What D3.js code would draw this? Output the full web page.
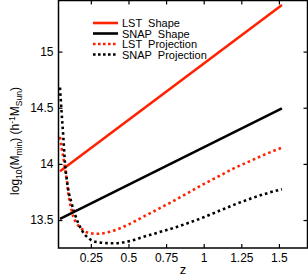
<!DOCTYPE html>
<html>
<head>
<meta charset="utf-8">
<script src="https://cdn.jsdelivr.net/npm/d3@7"></script>
<style>
  body { margin: 0; background: #fff; }
  text { font-family: "Liberation Sans", Arial, sans-serif; fill: #000; }
</style>
</head>
<body>
<svg id="chart"></svg>
<script>
var width = 308;
var height = 280;
var plot = {left: 58.5, right: 307.5, top: 0.5, bottom: 248};

// data
var zShape = [0.045, 1.52];
var lstShape = [13.935, 15.415];
var snapShape = [13.51, 14.495];

var zProj = [0.045, 0.056, 0.067, 0.078, 0.09, 0.10, 0.12, 0.134, 0.15, 0.167, 0.19, 0.21, 0.233, 0.26, 0.29,
             0.32, 0.36, 0.40, 0.45, 0.50, 0.60, 0.70, 0.80, 0.90, 1.0, 1.1, 1.2, 1.3, 1.4, 1.52];
var lstProj = [14.24, 14.14, 14.06, 13.96, 13.86, 13.74, 13.60, 13.53, 13.48, 13.45, 13.42, 13.40, 13.387, 13.38, 13.378,
               13.38, 13.39, 13.405, 13.43, 13.46, 13.53, 13.60, 13.67, 13.745, 13.82, 13.89, 13.96, 14.02, 14.08, 14.145];
var snapProj = [14.68, 14.45, 14.24, 14.01, 13.86, 13.77, 13.66, 13.59, 13.53, 13.47, 13.41, 13.37, 13.34, 13.315, 13.303,
                13.298, 13.294, 13.293, 13.298, 13.31, 13.35, 13.39, 13.43, 13.475, 13.525, 13.58, 13.635, 13.685, 13.73, 13.775];

var xTicks = [0.25, 0.5, 0.75, 1, 1.25, 1.5];
var yTicks = [13.5, 14, 14.5, 15];
var legendLabels = ["LST  Shape", "SNAP  Shape", "LST  Projection", "SNAP  Projection"];

var red = "#ff2200";
var series = [
    {z: zShape, v: lstShape, color: red, dotted: false},
    {z: zShape, v: snapShape, color: "#000", dotted: false},
    {z: zProj, v: lstProj, color: red, dotted: true},
    {z: zProj, v: snapProj, color: "#000", dotted: true}
];

var x = d3.scaleLinear().domain([0.035, 1.69]).range([plot.left, plot.right]);
var y = d3.scaleLinear().domain([13.251, 15.455]).range([plot.bottom, plot.top]);

var svg = d3.select("#chart").attr("width", width).attr("height", height);
svg.append("rect").attr("width", width).attr("height", height).attr("fill", "#fff");

var line = d3.line()
    .x(function (d) { return x(d[0]); })
    .y(function (d) { return y(d[1]); })
    .curve(d3.curveMonotoneX);

svg.append("clipPath").attr("id", "clip")
    .append("rect")
    .attr("x", plot.left).attr("y", plot.top)
    .attr("width", plot.right - plot.left).attr("height", plot.bottom - plot.top);

var lines = svg.append("g").attr("clip-path", "url(#clip)");
series.forEach(function (s) {
    var pts = s.z.map(function (z, i) { return [z, s.v[i]]; });
    lines.append("path")
        .attr("d", line(pts))
        .attr("fill", "none")
        .attr("stroke", s.color)
        .attr("stroke-width", s.dotted ? 2.6 : 2.6)
        .attr("stroke-dasharray", s.dotted ? "2.6,3" : null);
});

// axes, ticks pointing inward on all four sides
function styleAxis(g) {
    g.select(".domain").remove();
    g.selectAll(".tick line").attr("stroke", "#000").attr("stroke-width", 1.2);
    g.selectAll(".tick text").attr("font-size", 12).attr("font-family", "Liberation Sans, Arial, sans-serif");
}

svg.append("g")
    .attr("transform", "translate(0," + plot.bottom + ")")
    .call(d3.axisBottom(x).tickValues(xTicks).tickSizeInner(-4).tickSizeOuter(0).tickPadding(5)
        .tickFormat(function (d) { return String(d); }))
    .call(styleAxis);
svg.append("g")
    .attr("transform", "translate(0," + plot.top + ")")
    .call(d3.axisTop(x).tickValues(xTicks).tickSizeInner(-4).tickSizeOuter(0).tickFormat(""))
    .call(styleAxis);
svg.append("g")
    .attr("transform", "translate(" + plot.left + ",0)")
    .call(d3.axisLeft(y).tickValues(yTicks).tickSizeInner(-4).tickSizeOuter(0).tickPadding(5)
        .tickFormat(function (d) { return String(d); }))
    .call(styleAxis);
svg.append("g")
    .attr("transform", "translate(" + plot.right + ",0)")
    .call(d3.axisRight(y).tickValues(yTicks).tickSizeInner(-4).tickSizeOuter(0).tickFormat(""))
    .call(styleAxis);

svg.append("rect")
    .attr("x", plot.left).attr("y", plot.top)
    .attr("width", plot.right - plot.left).attr("height", plot.bottom - plot.top)
    .attr("fill", "none").attr("stroke", "#000").attr("stroke-width", 1.5);

// axis labels
svg.append("text")
    .attr("x", (plot.left + plot.right) / 2)
    .attr("y", 274)
    .attr("text-anchor", "middle")
    .attr("font-size", 13)
    .text("z");

var ylab = svg.append("text")
    .attr("transform", "translate(19,141) rotate(-90)")
    .attr("text-anchor", "middle")
    .attr("font-size", 12);
ylab.append("tspan").text("log");
ylab.append("tspan").attr("dy", 3).attr("font-size", 8.5).text("10");
ylab.append("tspan").attr("dy", -3).text("(M");
ylab.append("tspan").attr("dy", 3).attr("font-size", 8.5).text("min");
ylab.append("tspan").attr("dy", -3).text(") (h");
ylab.append("tspan").attr("dy", -4).attr("font-size", 8.5).text("-1");
ylab.append("tspan").attr("dy", 4).text("M");
ylab.append("tspan").attr("dy", 3).attr("font-size", 8.5).text("Sun");
ylab.append("tspan").attr("dy", -3).text(")");

// legend
var legend = svg.append("g");
series.forEach(function (s, i) {
    var cy = 23 + i * 10.5;
    legend.append("line")
        .attr("x1", 93).attr("x2", 118)
        .attr("y1", cy).attr("y2", cy)
        .attr("stroke", s.color)
        .attr("stroke-width", 2.6)
        .attr("stroke-dasharray", s.dotted ? "2.6,2.4" : null);
    legend.append("text")
        .attr("x", 122)
        .attr("y", cy + 4)
        .attr("font-size", 11)
        .style("white-space", "pre")
        .text(legendLabels[i]);
});
</script>
</body>
</html>
